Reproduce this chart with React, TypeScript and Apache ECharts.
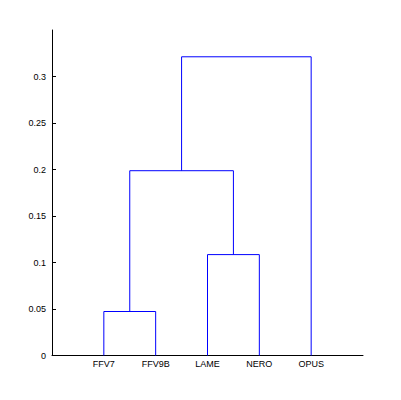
import React, { useEffect, useRef } from "react";
import * as echarts from "echarts";

// Leaf labels (in dendrogram order)
const leaves = ["FFV7", "FFV9B", "LAME", "NERO", "OPUS"];
// Linkage: [left cluster id, right cluster id, merge height]; leaves are ids 0..4, new clusters 5..8
const linkLeft = [0, 2, 5, 7];
const linkRight = [1, 3, 6, 4];
const linkHeight = [0.0473, 0.1085, 0.1987, 0.3212];
// Y tick labels
const yTicks = [0, 0.05, 0.1, 0.15, 0.2, 0.25, 0.3];

export default function App() {
  const ref = useRef<HTMLDivElement>(null);
  useEffect(() => {
    if (!ref.current) return;
    const chart = echarts.init(ref.current, undefined, { renderer: "svg" });
    const nodeX: number[] = leaves.map((_, i) => i + 1);
    const nodeH: number[] = leaves.map(() => 0);
    const series: any[] = [];
    linkHeight.forEach((h, k) => {
      const a = linkLeft[k];
      const b = linkRight[k];
      const xa = nodeX[a];
      const xb = nodeX[b];
      series.push({
        type: "line",
        data: [
          [xa, nodeH[a]],
          [xa, h],
          [xb, h],
          [xb, nodeH[b]],
        ],
        showSymbol: false,
        symbol: "none",
        lineStyle: { color: "#0000ff", width: 1 },
        silent: true,
      });
      nodeX.push((xa + xb) / 2);
      nodeH.push(h);
    });
    const font = { fontFamily: "Liberation Sans, Arial, sans-serif", fontSize: 9, color: "#000" };
    chart.setOption({
      animation: false,
      backgroundColor: "#fff",
      grid: { left: 52, top: 30, width: 311, height: 325.5, containLabel: false },
      xAxis: {
        type: "value",
        min: 0,
        max: leaves.length + 1,
        axisLine: { show: true, onZero: false, lineStyle: { color: "#000", width: 1 } },
        axisTick: { show: false },
        splitLine: { show: false },
        axisLabel: {
          ...font,
          margin: 4,
          customValues: leaves.map((_, i) => i + 1),
          formatter: (v: number) => leaves[Math.round(v) - 1] ?? "",
        },
      },
      yAxis: {
        type: "value",
        min: 0,
        max: 0.35,
        axisLine: { show: true, lineStyle: { color: "#000", width: 1 } },
        axisTick: {
          show: true,
          inside: true,
          length: 4,
          customValues: yTicks,
          lineStyle: { color: "#000" },
        },
        splitLine: { show: false },
        axisLabel: {
          ...font,
          margin: 6,
          customValues: yTicks,
          formatter: (v: number) => String(Math.round(v * 100) / 100),
        },
      },
      series,
    });
    return () => chart.dispose();
  }, []);
  return (
    <div
      ref={ref}
      style={{ position: "absolute", left: 0, top: 0, width: 401, height: 400, background: "#fff" }}
    />
  );
}
